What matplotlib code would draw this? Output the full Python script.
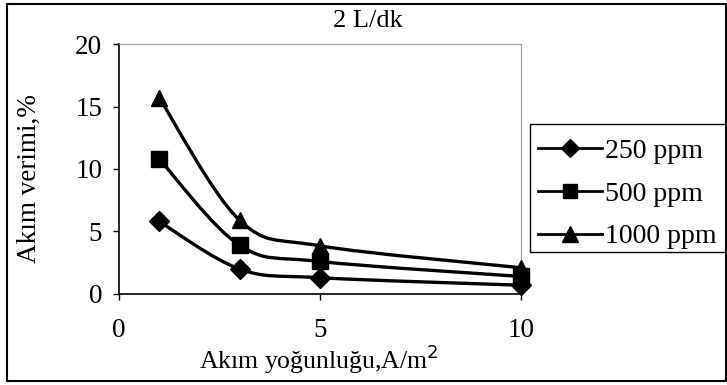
import matplotlib
matplotlib.use("Agg")
import matplotlib.pyplot as plt
from matplotlib.patches import PathPatch, Rectangle
from matplotlib.path import Path
from matplotlib.lines import Line2D

# values
current_density = [1, 3, 5, 10]
eff_250 = [5.8, 2.0, 1.3, 0.7]
eff_500 = [10.8, 3.9, 2.6, 1.4]
eff_1000 = [15.7, 5.9, 3.85, 2.1]

series_labels = ["250 ppm", "500 ppm", "1000 ppm"]
series_markers = ["D", "s", "^"]
series_sizes = [10, 11, 12]

x_ticks = [0, 5, 10]
y_ticks = [0, 5, 10, 15, 20]

FONT = "Liberation Serif"
W, H = 727, 385


def smooth_path(xs, ys):
    """Excel-style smoothed line: cubic Bezier through every point,
    control points from the neighbouring points (Catmull-Rom)."""
    pts = list(zip(xs, ys))
    verts = [pts[0]]
    codes = [Path.MOVETO]
    n = len(pts)
    for i in range(n - 1):
        p0 = pts[i - 1] if i > 0 else pts[i]
        p1 = pts[i]
        p2 = pts[i + 1]
        p3 = pts[i + 2] if i + 2 < n else pts[i + 1]
        c1 = (p1[0] + (p2[0] - p0[0]) / 6, p1[1] + (p2[1] - p0[1]) / 6)
        c2 = (p2[0] - (p3[0] - p1[0]) / 6, p2[1] - (p3[1] - p1[1]) / 6)
        verts += [c1, c2, p2]
        codes += [Path.CURVE4] * 3
    return Path(verts, codes)


fig = plt.figure(figsize=(W / 100, H / 100), dpi=100)
ax = fig.add_axes([0.1637, 0.2364, 0.5530, 0.6493])

for ys, label, mk, ms in zip([eff_250, eff_500, eff_1000], series_labels,
                             series_markers, series_sizes):
    ax.add_patch(PathPatch(smooth_path(current_density, ys), facecolor="none",
                           edgecolor="black", lw=2.4, clip_on=False, zorder=3))
    ax.plot(current_density, ys, linestyle="none", marker=mk, markersize=ms,
            color="black", clip_on=False, zorder=4)

ax.set_xlim(0, 10)
ax.set_ylim(0, 20)
ax.set_xticks(x_ticks)
ax.set_yticks(y_ticks)
ax.tick_params(direction="out", length=4, width=1, labelsize=19.5, pad=8)
ax.tick_params(axis="x", pad=13)
for lab in ax.get_xticklabels() + ax.get_yticklabels():
    lab.set_fontfamily(FONT)

ax.spines["left"].set_linewidth(1.2)
ax.spines["bottom"].set_linewidth(1.2)
for side in ("top", "right"):
    ax.spines[side].set_color("#9a9a9a")
    ax.spines[side].set_linewidth(0.8)

fig.text(0.506, 0.945, "2 L/dk", ha="center", va="center",
         fontsize=19, fontfamily=FONT)
fig.text(0.438, 0.068, "Akım yoğunluğu,A/m$^2$", ha="center", va="center",
         fontsize=18.5, fontfamily=FONT)
fig.text(0.041, 0.535, "Akım verimi,%", ha="center", va="center",
         rotation=90, fontsize=19.5, fontfamily=FONT)

# legend entries without their own frame; the box is drawn separately so it
# can run off the right edge like the original
handles = [Line2D([], [], color="black", lw=2, marker=mk, markersize=ms - 1)
           for mk, ms in zip(series_markers, series_sizes)]
fig.legend(handles, series_labels, loc="upper left",
           bbox_to_anchor=(538 / W, 1 - 138.5 / H),
           prop={"family": FONT, "size": 20}, frameon=False, borderpad=0,
           handlelength=2.3, handletextpad=0.1, labelspacing=0.62,
           borderaxespad=0)
fig.patches.append(Rectangle((530 / W, 1 - 252 / H), 200 / W, 128 / H,
                             transform=fig.transFigure, fill=False,
                             edgecolor="black", lw=1.0))

fig.patches.append(Rectangle((7 / W, 4 / H), 719 / W, 377 / H,
                             transform=fig.transFigure, fill=False,
                             edgecolor="black", lw=1.5))

fig.savefig("out.png", dpi=100)
